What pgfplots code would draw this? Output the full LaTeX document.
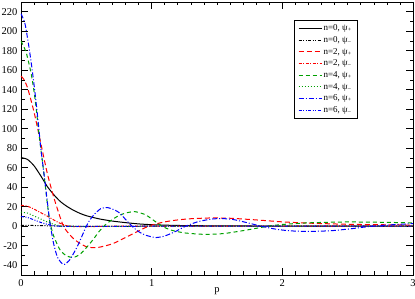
\documentclass[border=0pt]{standalone}
\usepackage{fontspec}
\setmainfont{Liberation Serif}
\usepackage{pgfplots}
\pgfplotsset{compat=1.18}
\definecolor{ggreen}{RGB}{0,160,0}
\begin{document}
\begin{tikzpicture}
\begin{axis}[
  at={(0,0)}, anchor=south west,
  scale only axis, width=392pt, height=273pt,
  xmin=0, xmax=3, ymin=-50, ymax=230,
  xtick={0,1,2,3}, minor x tick num=9,
  ytick={-40,-20,0,20,40,60,80,100,120,140,160,180,200,220}, minor y tick num=1,
  major tick length=7pt, minor tick length=3.5pt,
  tick style={black, line width=0.6pt},
  axis line style={black, line width=0.8pt},
  /pgf/number format/assume math mode=true,
  ticklabel style={font=\fontsize{10.5}{12}\selectfont},
  xticklabel style={yshift=-1pt},
  xlabel={p}, xlabel style={font=\fontsize{10.5}{12}\selectfont, yshift=6pt},
  legend cell align=left,
  legend image code/.code={\draw[sharp plot, #1, line width=1pt] (0pt,0pt) -- (23pt,0pt);},
  legend style={at={(0.696,0.934)}, anchor=north west, draw=black, line width=0.6pt,
     font=\fontsize{9}{10}\selectfont, row sep=1.2pt, inner xsep=4pt, inner ysep=3pt,
     nodes={inner sep=1.5pt}},
  every axis plot/.append style={line width=1pt, smooth, tension=0.4},
]
\addplot[color=black, solid] coordinates {(0,70.5)(0.05,68.5)(0.1,62)(0.15,52)(0.2,41)(0.25,32.5)(0.3,25.5)(0.35,20.5)(0.4,16.5)(0.45,13.3)(0.5,10.8)(0.6,7.5)(0.7,5.3)(0.8,3.7)(0.9,2.4)(1.0,1.6)(1.2,0.8)(1.5,0.4)(2,0.15)(2.5,0.05)(3,0.02)};
\addlegendentry{n=0, ψ\textsubscript{+}}
\addplot[color=black, dash pattern=on 3pt off 1.5pt on 1pt off 1.5pt on 1pt off 1.5pt] coordinates {(0,1)(0.2,0.5)(0.4,0)(1,0)(2,0)(3,0)};
\addlegendentry{n=0, ψ\textsubscript{–}}
\addplot[color=red, dash pattern=on 5pt off 3pt] coordinates {(0,154)(0.02,151)(0.05,142)(0.1,117)(0.15,86)(0.2,55)(0.25,30)(0.3,9)(0.325,0)(0.35,-5)(0.4,-12.5)(0.45,-17.5)(0.5,-21)(0.55,-22)(0.6,-21.5)(0.7,-18)(0.8,-11.5)(0.87,-6.8)(0.95,-1.5)(1.0,1.2)(1.1,4.5)(1.2,6.5)(1.3,7.7)(1.45,8.5)(1.6,8.2)(1.8,6.5)(2.0,4.5)(2.2,3.2)(2.5,2)(2.8,1.5)(3,1.2)};
\addlegendentry{n=2, ψ\textsubscript{+}}
\addplot[color=red, dash pattern=on 3pt off 1.5pt on 1pt off 1.5pt] coordinates {(0,21.5)(0.05,20.5)(0.1,17.5)(0.15,14)(0.2,10.5)(0.25,6.5)(0.3,3)(0.35,0.5)(0.4,-0.3)(0.5,-0.4)(0.7,0)(1,0)(2,0)(3,0)};
\addlegendentry{n=2, ψ\textsubscript{–}}
\addplot[color=ggreen, dash pattern=on 4pt off 3pt] coordinates {(0,190)(0.04,178)(0.08,155)(0.11,128)(0.14,92)(0.17,60)(0.2,25)(0.22,5)(0.25,-10)(0.3,-24.5)(0.35,-30.5)(0.4,-32)(0.45,-29)(0.5,-22)(0.55,-14)(0.6,-5)(0.65,2)(0.7,7)(0.75,11)(0.8,13.5)(0.87,15)(0.95,12)(1.0,7.5)(1.08,0)(1.15,-4)(1.25,-6.8)(1.4,-8.3)(1.55,-7.5)(1.7,-4.5)(1.89,0)(2.0,1.8)(2.2,3.5)(2.5,4.4)(2.8,4)(3.0,3.4)};
\addlegendentry{n=4, ψ\textsubscript{+}}
\addplot[color=ggreen, dash pattern=on 1pt off 2pt] coordinates {(0,14.5)(0.05,13.5)(0.1,10.5)(0.15,7.5)(0.2,4.5)(0.25,2)(0.3,0.5)(0.35,0)(1,0)(2,0)(3,0)};
\addlegendentry{n=4, ψ\textsubscript{–}}
\addplot[color=blue, dash pattern=on 5pt off 2pt on 1pt off 2pt] coordinates {(0,218)(0.03,208)(0.056,188)(0.082,164)(0.108,136)(0.133,105)(0.15,82)(0.185,44)(0.22,5)(0.25,-18)(0.28,-32)(0.325,-39.3)(0.37,-35)(0.43,-21)(0.49,-3)(0.52,5)(0.56,12)(0.61,18)(0.66,19.2)(0.72,16.5)(0.76,13)(0.8,7)(0.85,0)(0.9,-5.5)(0.95,-9)(1.03,-11.6)(1.1,-10)(1.18,-5.5)(1.26,0)(1.35,4.5)(1.45,7.2)(1.53,7.9)(1.62,7)(1.72,4)(1.84,0)(1.95,-3)(2.05,-4.6)(2.17,-5.3)(2.3,-5)(2.4,-4.3)(2.53,-2.5)(2.65,-0.5)(2.78,1)(2.9,2)(3.0,2.7)};
\addlegendentry{n=6, ψ\textsubscript{+}}
\addplot[color=blue, dash pattern=on 3pt off 1.5pt on 1pt off 1.5pt on 1pt off 1.5pt] coordinates {(0,10)(0.05,9)(0.1,6.5)(0.15,4)(0.2,2)(0.25,0.5)(0.3,0)(1,0)(2,0)(3,0)};
\addlegendentry{n=6, ψ\textsubscript{–}}
\end{axis}
\pgfresetboundingbox
\path (-21pt,-24pt) rectangle (394pt,275pt);
\end{tikzpicture}
\end{document}
